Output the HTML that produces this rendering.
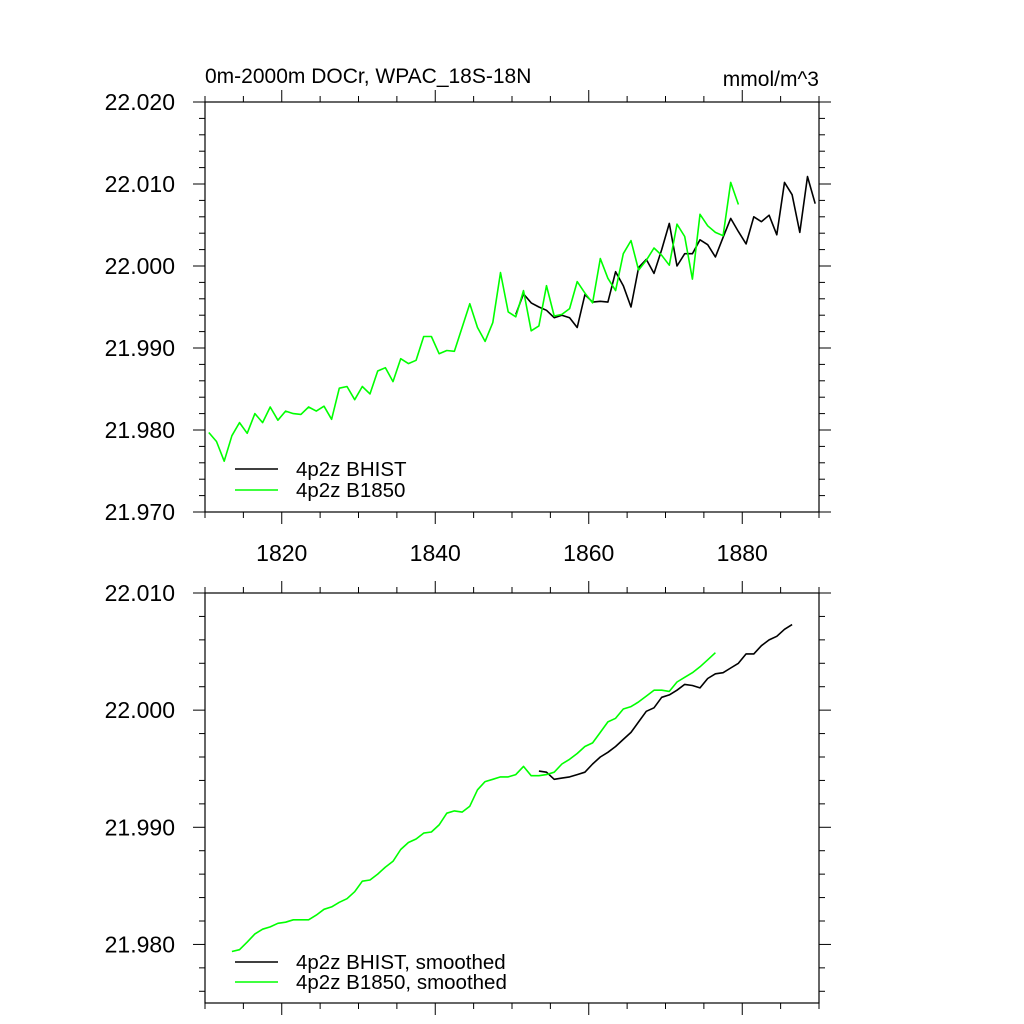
<!DOCTYPE html>
<html><head><meta charset="utf-8"><style>
html,body{margin:0;padding:0;background:#fff;}
svg{display:block;font-family:"Liberation Sans",sans-serif;}
</style></head><body>
<svg id="chart" width="1024" height="1024" viewBox="0 0 1024 1024" xmlns="http://www.w3.org/2000/svg">
<text x="205" y="83" font-size="21">0m-2000m DOCr, WPAC_18S-18N</text>
<text x="819" y="86" font-size="21" text-anchor="end">mmol/m^3</text>
</svg>
<script>
// Data: year index i -> year 1810.5 + i
const xTickLabels = ["1820","1840","1860","1880"];
const topYTicks = ["21.970","21.980","21.990","22.000","22.010","22.020"];
const botYTicks = ["21.980","21.990","22.000","22.010"];
const greenStart = 0;
const greenRaw = [21.9797,21.9786,21.9762,21.9793,21.9809,21.9796,21.9820,21.9809,21.9828,21.9812,
21.9823,21.9820,21.9819,21.9828,21.9823,21.9829,21.9813,21.9851,21.9853,21.9837,
21.9853,21.9844,21.9872,21.9876,21.9859,21.9887,21.9881,21.9885,21.9914,21.9914,
21.9893,21.9897,21.9896,21.9925,21.9954,21.9925,21.9908,21.9931,21.9992,21.9944,
21.9938,21.9970,21.9921,21.9927,21.9976,21.9939,21.9941,21.9948,21.9981,21.9967,
21.9955,22.0009,21.9985,21.9970,22.0015,22.0031,21.9995,22.0007,22.0022,22.0013,
22.0001,22.0051,22.0036,21.9984,22.0063,22.0049,22.0041,22.0037,22.0102,22.0075];
const blackStart = 40;
const blackRaw = [21.9941,21.9966,21.9955,21.9950,21.9946,21.9937,21.9940,21.9937,21.9925,21.9965,
21.9956,21.9957,21.9956,21.9993,21.9976,21.9950,21.9998,22.0008,21.9991,22.0020,
22.0052,22.0000,22.0015,22.0015,22.0032,22.0026,22.0011,22.0035,22.0058,22.0042,
22.0027,22.0060,22.0054,22.0062,22.0038,22.0102,22.0087,22.0041,22.0109,22.0076];
const greenSmStart = 3;
const greenSm = [21.9794,21.97955,21.9802,21.9809,21.9813,21.9815,21.9818,21.9819,21.9821,21.9821,
21.9821,21.9825,21.9830,21.9832,21.9836,21.9839,21.9845,21.9854,21.9855,21.9860,
21.9866,21.9871,21.9881,21.9887,21.9890,21.9895,21.9896,21.9902,21.9912,21.9914,
21.9913,21.9918,21.9932,21.9939,21.9941,21.9943,21.9943,21.9945,21.9952,21.9944,
21.9944,21.9945,21.9947,21.9954,21.9958,21.9963,21.9969,21.9972,21.9981,21.9990,
21.9993,22.0001,22.0003,22.0007,22.0012,22.0017,22.0017,22.0016,22.0024,22.0028,
22.0032,22.0037,22.0043,22.0049];
const blackSmStart = 43;
const blackSm = [21.9948,21.9947,21.9941,21.9942,21.9943,21.9945,21.9947,21.9954,21.9960,21.9964,
21.9969,21.9975,21.9981,21.9990,21.9999,22.0002,22.0011,22.0013,22.0017,22.0022,
22.0021,22.0019,22.0027,22.0031,22.0032,22.0036,22.0040,22.0048,22.0048,22.0055,
22.0060,22.0063,22.0069,22.0073];

const NS="http://www.w3.org/2000/svg";
const svg=document.getElementById('chart');
function el(tag,attrs,parent){const e=document.createElementNS(NS,tag);for(const k in attrs)e.setAttribute(k,attrs[k]);(parent||svg).appendChild(e);return e;}
const L=205,R=819;
const X0=1810,X1=1890;
function xs(year){return L+(year-X0)/(X1-X0)*(R-L);}

function panel(name,top,bot,ymin,ymax,yTicks,showXLabels,series,legend){
  const g=el('g',{});
  
  
  const ys=v=>bot-(v-ymin)/(ymax-ymin)*(bot-top);
  const frame=el('rect',{x:L,y:top,width:R-L,height:bot-top,fill:'none',stroke:'#000','stroke-width':1.2},g);
  
  
  // y ticks: multiples of 0.002 (in units of 0.001 integers)
  const kmin=Math.ceil(ymin*1000-1e-6), kmax=Math.floor(ymax*1000+1e-6);
  for(let k=kmin;k<=kmax;k++){
    if(k%2!==0) continue;
    const y=ys(k/1000);
    const major=(k%10===0);
    const len=major?12:6;
    el('line',{x1:L-len,y1:y,x2:L,y2:y,stroke:'#000','stroke-width':1},g);
    el('line',{x1:R,y1:y,x2:R+len,y2:y,stroke:'#000','stroke-width':1},g);
  }
  yTicks.forEach(t=>{
    const y=ys(parseFloat(t));
    const tx=el('text',{x:175,y:y+8,'font-size':23,'text-anchor':'end'},g);
    tx.textContent=t;
    
    
  });
  for(let yr=X0;yr<=X1;yr+=5){
    const x=xs(yr);const major=(yr%20===0);const len=major?12:6;
    el('line',{x1:x,y1:bot,x2:x,y2:bot+len,stroke:'#000','stroke-width':1},g);
    el('line',{x1:x,y1:top-len,x2:x,y2:top,stroke:'#000','stroke-width':1},g);
  }
  if(showXLabels){
    xTickLabels.forEach(t=>{
      const tx=el('text',{x:xs(parseFloat(t)),y:bot+49,'font-size':23,'text-anchor':'middle'},g);
      tx.textContent=t;
      
      
    });
  }
  series.forEach(s=>{
    const pts=s.data.map((v,i)=>xs(X0+0.5+s.start+i).toFixed(1)+','+ys(v).toFixed(1)).join(' ');
    const p=el('polyline',{points:pts,fill:'none',stroke:s.color,'stroke-width':1.6,'stroke-linejoin':'round'},g);
    
    
  });
  legend.forEach(lg=>{
    const y=lg.y;
    const ln=el('line',{x1:235,y1:y,x2:278,y2:y,stroke:lg.color,'stroke-width':1.6},g);
    
    
    const tx=el('text',{x:296,y:y+7,'font-size':20.5},g);
    tx.textContent=lg.text;
    
    
  });
}
panel('top-panel',102,512,21.970,22.020,topYTicks,true,
 [{name:'series-bhist',color:'#000',start:blackStart,data:blackRaw},
  {name:'series-b1850',color:'#00ff00',start:greenStart,data:greenRaw}],
 [{y:469,color:'#000',text:'4p2z BHIST'},{y:490,color:'#00ff00',text:'4p2z B1850'}]);
panel('bottom-panel',593,1003,21.975,22.010,botYTicks,false,
 [{name:'series-bhist-smoothed',color:'#000',start:blackSmStart,data:blackSm},
  {name:'series-b1850-smoothed',color:'#00ff00',start:greenSmStart,data:greenSm}],
 [{y:962,color:'#000',text:'4p2z BHIST, smoothed'},{y:982,color:'#00ff00',text:'4p2z B1850, smoothed'}]);
</script>
</body></html>
